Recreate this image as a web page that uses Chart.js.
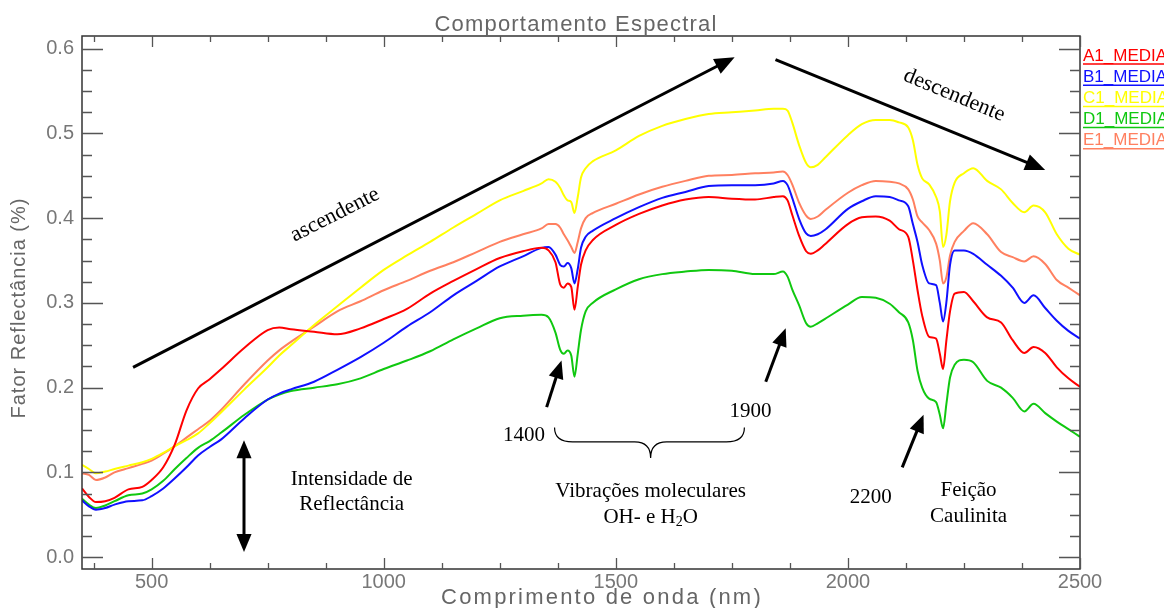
<!DOCTYPE html>
<html>
<head>
<meta charset="utf-8">
<script src="https://cdn.jsdelivr.net/npm/chart.js@4.4.0/dist/chart.umd.min.js"></script>
<style>
  html, body { margin: 0; padding: 0; background: #fff; }
  #wrap { width: 1164px; height: 608px; }
</style>
</head>
<body>
<div id="wrap"><canvas id="spectraCanvas" width="1164" height="608"></canvas></div>
<script>
// comprimento de onda (nm)
const wavelengths = [
  350, 365, 380, 400, 420, 450, 480, 500, 525, 550,
  575, 600, 625, 650, 700, 750, 775, 800, 850, 900,
  950, 1000, 1050, 1100, 1150, 1200, 1250, 1300, 1340, 1355,
  1370, 1380, 1388, 1396, 1404, 1411, 1418, 1425, 1435, 1450,
  1500, 1550, 1600, 1650, 1700, 1750, 1800, 1840, 1860, 1870,
  1880, 1895, 1910, 1920, 1935, 1950, 2000, 2030, 2060, 2090,
  2110, 2130, 2140, 2150, 2160, 2175, 2190, 2198, 2205, 2212,
  2220, 2230, 2250, 2270, 2300, 2330, 2355, 2380, 2400, 2425,
  2450, 2475, 2500
];

const a1Media = [
  0.081, 0.071, 0.065, 0.066, 0.070, 0.080, 0.083, 0.091, 0.106, 0.133,
  0.173, 0.199, 0.210, 0.222, 0.247, 0.268, 0.271, 0.269, 0.266, 0.263,
  0.270, 0.281, 0.293, 0.311, 0.326, 0.340, 0.353, 0.361, 0.365, 0.362,
  0.348, 0.322, 0.318, 0.323, 0.319, 0.292, 0.319, 0.345, 0.362, 0.374,
  0.392, 0.405, 0.415, 0.422, 0.425, 0.423, 0.422, 0.425, 0.426, 0.421,
  0.404, 0.379, 0.361, 0.358, 0.362, 0.369, 0.393, 0.401, 0.402, 0.397,
  0.387, 0.378, 0.350, 0.315, 0.285, 0.260, 0.258, 0.240, 0.222, 0.255,
  0.290, 0.311, 0.313, 0.302, 0.283, 0.277, 0.256, 0.241, 0.248, 0.241,
  0.224, 0.211, 0.201
];

const b1Media = [
  0.067, 0.060, 0.056, 0.058, 0.062, 0.066, 0.067, 0.072, 0.081, 0.093,
  0.106, 0.120, 0.130, 0.139, 0.164, 0.186, 0.193, 0.198, 0.207, 0.221,
  0.236, 0.253, 0.272, 0.289, 0.309, 0.326, 0.343, 0.355, 0.365, 0.366,
  0.357, 0.345, 0.343, 0.347, 0.341, 0.323, 0.340, 0.365, 0.378, 0.385,
  0.400, 0.413, 0.424, 0.431, 0.438, 0.439, 0.439, 0.441, 0.444, 0.439,
  0.424, 0.399, 0.382, 0.379, 0.381, 0.386, 0.411, 0.420, 0.426, 0.425,
  0.421, 0.414, 0.393, 0.372, 0.345, 0.323, 0.321, 0.300, 0.278, 0.300,
  0.345, 0.362, 0.362, 0.358, 0.345, 0.332, 0.318, 0.300, 0.309, 0.294,
  0.279, 0.267, 0.258
];

const c1Media = [
  0.109, 0.104, 0.099, 0.101, 0.104, 0.108, 0.112, 0.116, 0.123, 0.131,
  0.138, 0.146, 0.158, 0.171, 0.198, 0.224, 0.238, 0.250, 0.274, 0.296,
  0.318, 0.339, 0.356, 0.372, 0.389, 0.405, 0.421, 0.432, 0.441, 0.446,
  0.443, 0.436, 0.427, 0.421, 0.419, 0.406, 0.425, 0.448, 0.459, 0.467,
  0.480, 0.497, 0.509, 0.517, 0.523, 0.525, 0.527, 0.529, 0.529, 0.527,
  0.513, 0.486, 0.465, 0.460, 0.463, 0.471, 0.498, 0.511, 0.516, 0.516,
  0.513, 0.507, 0.492, 0.463, 0.447, 0.440, 0.425, 0.408, 0.366, 0.380,
  0.420, 0.442, 0.453, 0.459, 0.444, 0.434, 0.418, 0.407, 0.415, 0.407,
  0.381, 0.364, 0.357
];

const d1Media = [
  0.069, 0.062, 0.058, 0.061, 0.066, 0.073, 0.075, 0.080, 0.090, 0.104,
  0.117, 0.129, 0.137, 0.147, 0.168, 0.186, 0.192, 0.196, 0.200, 0.204,
  0.211, 0.222, 0.232, 0.243, 0.257, 0.270, 0.282, 0.285, 0.286, 0.283,
  0.265, 0.245, 0.240, 0.244, 0.238, 0.213, 0.240, 0.268, 0.290, 0.300,
  0.316, 0.328, 0.334, 0.337, 0.339, 0.338, 0.334, 0.334, 0.337, 0.331,
  0.316, 0.297, 0.276, 0.272, 0.276, 0.281, 0.298, 0.307, 0.306, 0.299,
  0.289, 0.277, 0.256, 0.220, 0.200, 0.187, 0.183, 0.168, 0.152, 0.180,
  0.212, 0.227, 0.233, 0.230, 0.208, 0.200, 0.188, 0.172, 0.181, 0.170,
  0.160, 0.151, 0.142
];

const e1Media = [
  0.099, 0.097, 0.091, 0.094, 0.100, 0.105, 0.110, 0.114, 0.122, 0.131,
  0.141, 0.151, 0.161, 0.174, 0.204, 0.232, 0.244, 0.254, 0.272, 0.290,
  0.302, 0.315, 0.326, 0.338, 0.348, 0.360, 0.372, 0.381, 0.388, 0.393,
  0.393, 0.389, 0.381, 0.374, 0.366, 0.359, 0.372, 0.388, 0.400, 0.406,
  0.417, 0.428, 0.437, 0.444, 0.450, 0.451, 0.453, 0.454, 0.455, 0.451,
  0.440, 0.418, 0.403, 0.399, 0.402, 0.409, 0.430, 0.439, 0.444, 0.443,
  0.441, 0.434, 0.422, 0.402, 0.395, 0.386, 0.370, 0.350, 0.323, 0.330,
  0.356, 0.372, 0.385, 0.394, 0.381, 0.360, 0.354, 0.349, 0.355, 0.346,
  0.327, 0.318, 0.309
];

const seriesNames = ["A1_MEDIA", "B1_MEDIA", "C1_MEDIA", "D1_MEDIA", "E1_MEDIA"];
const seriesValues = [a1Media, b1Media, c1Media, d1Media, e1Media];
const seriesColors = ["#ff0000", "#1010ff", "#ffff00", "#10c810", "#ff8060"];

const xTicks = [500, 1000, 1500, 2000, 2500];
const yTicks = [0, 0.1, 0.2, 0.3, 0.4, 0.5, 0.6];

// anotacoes (em nm / fator de reflectancia)
const arrows = [
  { from: [460, 0.224], to: [1756, 0.590], head: 20 },
  { from: [1844, 0.587], to: [2425, 0.457], head: 20 },
  { from: [1351, 0.177], to: [1383, 0.232], head: 18 },
  { from: [1823, 0.207], to: [1866, 0.270], head: 18 },
  { from: [2117, 0.106], to: [2163, 0.168], head: 18 }
];
const serifTexts = [
  { text: "Intensidade de", at: [931, 0.092] },
  { text: "Reflectância", at: [931, 0.062] },
  { text: "1400", at: [1302, 0.143] },
  { text: "1900", at: [1790, 0.172] },
  { text: "Vibrações moleculares", at: [1575, 0.077] },
  { text: "2200", at: [2049, 0.070] },
  { text: "Feição", at: [2260, 0.079] },
  { text: "Caulinita", at: [2260, 0.048] }
];
const rotatedTexts = [
  { text: "ascendente", at: [895, 0.404], angle: -27 },
  { text: "descendente", at: [2229, 0.545], angle: 22.5 }
];

const SERIF = '21px "Liberation Serif", "Times New Roman", serif';
const SANS = '"Liberation Sans", Arial, sans-serif';

function arrowHead(ctx, x1, y1, x2, y2, len) {
  const ang = Math.atan2(y2 - y1, x2 - x1);
  const w = len * 0.42;
  ctx.beginPath();
  ctx.moveTo(x2, y2);
  ctx.lineTo(x2 - len * Math.cos(ang) + w * Math.sin(ang), y2 - len * Math.sin(ang) - w * Math.cos(ang));
  ctx.lineTo(x2 - len * Math.cos(ang) - w * Math.sin(ang), y2 - len * Math.sin(ang) + w * Math.cos(ang));
  ctx.closePath();
  ctx.fill();
}

function drawArrow(ctx, x1, y1, x2, y2, len) {
  const ang = Math.atan2(y2 - y1, x2 - x1);
  ctx.beginPath();
  ctx.moveTo(x1, y1);
  ctx.lineTo(x2 - len * 0.8 * Math.cos(ang), y2 - len * 0.8 * Math.sin(ang));
  ctx.stroke();
  arrowHead(ctx, x1, y1, x2, y2, len);
}

const extrasPlugin = {
  id: 'extras',
  afterDraw(chart) {
    const ctx = chart.ctx;
    const a = chart.chartArea;
    const xs = chart.scales.x, ys = chart.scales.y;
    const px = v => xs.getPixelForValue(v);
    const py = v => ys.getPixelForValue(v);
    ctx.save();

    // moldura
    ctx.strokeStyle = '#333';
    ctx.lineWidth = 1.5;
    ctx.strokeRect(a.left, a.top, a.right - a.left, a.bottom - a.top);

    // marcas dos eixos (para dentro)
    ctx.strokeStyle = '#555';
    ctx.lineWidth = 1.3;
    ctx.beginPath();
    for (let v = 375; v <= 2500; v += 125) {
      const len = v % 500 === 0 ? 11 : 6;
      const X = Math.round(px(v)) + 0.5;
      ctx.moveTo(X, a.bottom); ctx.lineTo(X, a.bottom - len);
      ctx.moveTo(X, a.top); ctx.lineTo(X, a.top + len);
    }
    for (let i = 0; i <= 24; i++) {
      const len = i % 4 === 0 ? 21 : 10;
      const Y = Math.round(py(i * 0.025)) + 0.5;
      ctx.moveTo(a.left, Y); ctx.lineTo(a.left + len, Y);
      ctx.moveTo(a.right, Y); ctx.lineTo(a.right - len, Y);
    }
    ctx.stroke();

    // titulos
    ctx.fillStyle = '#666';
    ctx.textAlign = 'center';
    ctx.textBaseline = 'alphabetic';
    ctx.font = '22px ' + SANS;
    ctx.letterSpacing = '1.2px';
    ctx.fillText('Comportamento Espectral', 576, 31);
    ctx.letterSpacing = '2.2px';
    ctx.fillText('Comprimento de onda (nm)', 602, 604);
    ctx.save();
    ctx.translate(25, 308);
    ctx.rotate(-Math.PI / 2);
    ctx.font = '20px ' + SANS;
    ctx.letterSpacing = '1px';
    ctx.fillText('Fator Reflectância (%)', 0, 0);
    ctx.restore();
    ctx.letterSpacing = '0px';

    // legenda
    ctx.textAlign = 'left';
    ctx.font = '17px ' + SANS;
    chart.data.datasets.forEach((ds, i) => {
      const y = a.top + 24.5 + i * 21.2;
      const x = a.right + 3;
      ctx.fillStyle = ds.borderColor;
      ctx.fillText(ds.label, x, y);
      const w = ctx.measureText(ds.label).width;
      ctx.strokeStyle = ds.borderColor;
      ctx.lineWidth = 1.5;
      ctx.beginPath();
      ctx.moveTo(x, y + 3.5); ctx.lineTo(x + w, y + 3.5);
      ctx.stroke();
    });

    // setas
    ctx.fillStyle = '#000';
    ctx.strokeStyle = '#000';
    ctx.lineWidth = 3;
    arrows.forEach(ar => {
      drawArrow(ctx, px(ar.from[0]), py(ar.from[1]), px(ar.to[0]), py(ar.to[1]), ar.head);
    });
    // seta dupla (intensidade)
    const ix = px(699), iy1 = py(0.006), iy2 = py(0.138);
    ctx.beginPath();
    ctx.moveTo(ix, iy1 - 14); ctx.lineTo(ix, iy2 + 14);
    ctx.stroke();
    arrowHead(ctx, ix, iy1, ix, iy2, 18);
    arrowHead(ctx, ix, iy2, ix, iy1, 18);

    // chave
    const bx1 = px(1368), bx2 = px(1777), bxc = px(1575);
    const byTop = py(0.153), byMid = py(0.136), byTip = py(0.117);
    ctx.lineWidth = 1.2;
    ctx.beginPath();
    ctx.moveTo(bx1, byTop);
    ctx.quadraticCurveTo(bx1, byMid, bx1 + 18, byMid);
    ctx.lineTo(bxc - 16, byMid);
    ctx.quadraticCurveTo(bxc, byMid, bxc, byTip);
    ctx.quadraticCurveTo(bxc, byMid, bxc + 16, byMid);
    ctx.lineTo(bx2 - 18, byMid);
    ctx.quadraticCurveTo(bx2, byMid, bx2, byTop);
    ctx.stroke();

    // textos
    ctx.font = SERIF;
    ctx.textAlign = 'center';
    ctx.textBaseline = 'middle';
    serifTexts.forEach(t => ctx.fillText(t.text, px(t.at[0]), py(t.at[1])));

    // OH- e H2O
    const hx = px(1575), hy = py(0.047);
    ctx.textAlign = 'left';
    const w1 = ctx.measureText('OH- e H').width, w3 = ctx.measureText('O').width;
    ctx.font = '14px "Liberation Serif", serif';
    const w2 = ctx.measureText('2').width;
    let sx = hx - (w1 + w2 + w3) / 2;
    ctx.font = SERIF;
    ctx.fillText('OH- e H', sx, hy); sx += w1;
    ctx.font = '14px "Liberation Serif", serif';
    ctx.fillText('2', sx, hy + 5); sx += w2;
    ctx.font = SERIF;
    ctx.fillText('O', sx, hy);

    ctx.textAlign = 'center';
    ctx.font = '22px "Liberation Serif", serif';
    rotatedTexts.forEach(t => {
      ctx.save();
      ctx.translate(px(t.at[0]), py(t.at[1]));
      ctx.rotate(t.angle * Math.PI / 180);
      ctx.fillText(t.text, 0, 0);
      ctx.restore();
    });

    ctx.restore();
  }
};

const datasets = seriesNames.map((name, i) => ({
  label: name,
  data: wavelengths.map((w, j) => ({ x: w, y: seriesValues[i][j] })),
  borderColor: seriesColors[i],
  backgroundColor: seriesColors[i],
  borderWidth: 2,
  pointRadius: 0,
  fill: false,
  cubicInterpolationMode: 'monotone'
}));

const chart = new Chart(document.getElementById('spectraCanvas'), {
  type: 'line',
  data: { datasets: datasets },
  options: {
    responsive: false,
    animation: false,
    layout: { padding: { top: 36, right: 84, left: 0, bottom: 0 } },
    plugins: {
      legend: { display: false },
      tooltip: { enabled: false },
      title: { display: false }
    },
    scales: {
      x: {
        type: 'linear',
        min: 350,
        max: 2500,
        afterBuildTicks: s => { s.ticks = xTicks.map(v => ({ value: v })); },
        afterFit: s => { s.height = 39; },
        grid: { display: false, drawTicks: false },
        border: { display: false },
        ticks: {
          color: '#777',
          font: { family: 'Liberation Sans', size: 20 },
          padding: 1,
          maxRotation: 0,
          autoSkip: false,
          callback: v => String(v)
        }
      },
      y: {
        type: 'linear',
        min: -0.014,
        max: 0.615,
        afterBuildTicks: s => { s.ticks = yTicks.map(v => ({ value: v })); },
        afterFit: s => { s.width = 82; },
        grid: { display: false, drawTicks: false },
        border: { display: false },
        ticks: {
          color: '#777',
          font: { family: 'Liberation Sans', size: 20 },
          padding: 8,
          callback: v => v.toFixed(1)
        }
      }
    }
  },
  plugins: [extrasPlugin]
});
</script>
</body>
</html>
